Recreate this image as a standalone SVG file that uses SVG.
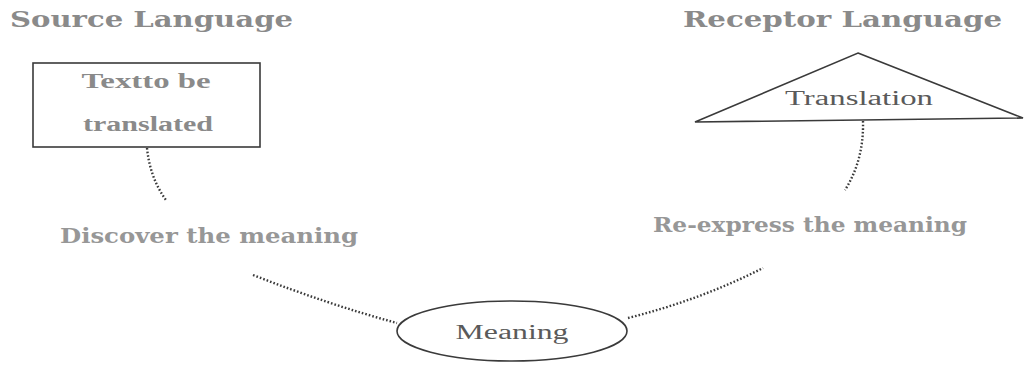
<svg xmlns="http://www.w3.org/2000/svg" width="1030" height="367" viewBox="0 0 1030 367">
  <style>
    .head { font-family: "DejaVu Serif", "Liberation Serif", serif; font-weight: bold; font-size: 22px; fill: #8a8a8a; }
    .step { font-family: "DejaVu Serif", "Liberation Serif", serif; font-weight: bold; font-size: 20px; fill: #979797; }
    .node-text { font-family: "Liberation Serif", serif; font-size: 20px; fill: #5a5a5a; text-anchor: middle; }
    .box-text { font-family: "Liberation Serif", serif; font-weight: bold; font-size: 20px; fill: #8a8a8a; text-anchor: middle; }
    .dots { fill: none; stroke: #3a3a3a; stroke-width: 2.4; stroke-dasharray: 1.6 2; }
    .shape { fill: #fff; stroke: #3a3a3a; stroke-width: 1.6; }
  </style>
  <rect width="1030" height="367" fill="#fff"/>

  <!-- headings -->
  <text class="head" x="10" y="27" textLength="283" lengthAdjust="spacingAndGlyphs">Source Language</text>
  <text class="head" x="683" y="27" textLength="319" lengthAdjust="spacingAndGlyphs">Receptor Language</text>

  <!-- connectors -->
  <g id="connectors">
    <path class="dots" d="M147,148 Q150,178 166,200"/>
    <path class="dots" d="M863,121 Q864,160 845,190"/>
    <path class="dots" d="M253,275 Q330,305 397,323"/>
    <path class="dots" d="M628,318 Q700,300 763,268"/>
  </g>

  <g id="source-text">
    <rect class="shape" x="33" y="63" width="227" height="84" stroke="#222" stroke-width="2"/>
    <text class="box-text" x="146" y="88" textLength="129" lengthAdjust="spacingAndGlyphs">Textto be</text>
    <text class="box-text" x="148" y="131" textLength="130" lengthAdjust="spacingAndGlyphs">translated</text>
  </g>

  <g id="translation">
    <polygon class="shape" points="858,53 1023,118 695,122"/>
    <text class="node-text" x="859" y="105" textLength="148" lengthAdjust="spacingAndGlyphs">Translation</text>
  </g>

  <g id="discover">
    <text class="step" x="60" y="243" textLength="298" lengthAdjust="spacingAndGlyphs">Discover the meaning</text>
  </g>

  <g id="reexpress">
    <text class="step" x="653" y="232" textLength="314" lengthAdjust="spacingAndGlyphs">Re-express the meaning</text>
  </g>

  <g id="meaning">
    <ellipse class="shape" cx="512" cy="331" rx="115" ry="30"/>
    <text class="node-text" x="512" y="339" textLength="113" lengthAdjust="spacingAndGlyphs">Meaning</text>
  </g>
</svg>
